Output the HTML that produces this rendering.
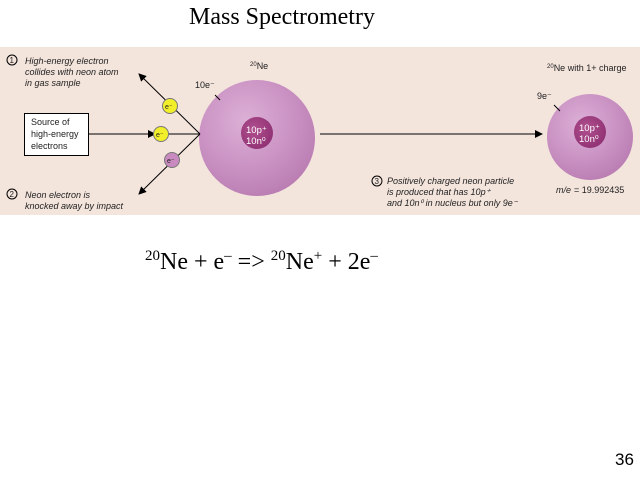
<!DOCTYPE html>
<html><head><style>
body{margin:0;width:640px;height:481px;background:#fff;position:relative;overflow:hidden;font-family:"Liberation Sans",sans-serif}
.t{position:absolute;white-space:nowrap}
</style></head><body>
<div class="t" style="left:189px;top:4px;font:24px 'Liberation Serif',serif">Mass Spectrometry</div>
<svg style="position:absolute;left:0;top:0" width="640" height="481">
<defs>
<radialGradient id="g1" cx="0.4" cy="0.35" r="0.7"><stop offset="0" stop-color="#dcb0d6"/><stop offset="0.6" stop-color="#c991c2"/><stop offset="1" stop-color="#b97cb2"/></radialGradient>
<radialGradient id="g2" cx="0.4" cy="0.4" r="0.7"><stop offset="0" stop-color="#b0508f"/><stop offset="1" stop-color="#8e2f72"/></radialGradient>
<marker id="a" markerWidth="8" markerHeight="8" refX="7" refY="4" orient="auto" markerUnits="userSpaceOnUse"><path d="M0,0L8,4L0,8z" fill="#000"/></marker>
</defs>
<rect x="0" y="47" width="640" height="168" fill="#f3e4dc"/>
<circle cx="257" cy="138" r="58" fill="url(#g1)"/>
<circle cx="257" cy="133" r="16" fill="url(#g2)"/>
<circle cx="590" cy="137" r="43" fill="url(#g1)"/>
<circle cx="590" cy="132" r="16" fill="url(#g2)"/>
<line x1="88" y1="134" x2="155" y2="134" stroke="#000" marker-end="url(#a)"/>
<line x1="155" y1="134" x2="200" y2="134" stroke="#000"/>
<line x1="200" y1="134" x2="139" y2="74" stroke="#000" marker-end="url(#a)"/>
<line x1="200" y1="134" x2="139" y2="194" stroke="#000" marker-end="url(#a)"/>
<line x1="320" y1="134" x2="542" y2="134" stroke="#000" marker-end="url(#a)"/>
<line x1="215" y1="95" x2="220" y2="100" stroke="#000"/>
<line x1="230" y1="107" x2="236" y2="108" stroke="#fff" stroke-width="0"/>
<line x1="554" y1="105" x2="560" y2="111" stroke="#000"/>
<rect x="24.5" y="113.5" width="64" height="42" fill="#fff" stroke="#000"/>
<circle cx="170" cy="106" r="7.5" fill="#f2ee2a" stroke="#777"/>
<circle cx="161" cy="134" r="7.5" fill="#f2ee2a" stroke="#777"/>
<circle cx="172" cy="160" r="7.5" fill="#c98ac0" stroke="#777"/>
<circle cx="12" cy="60" r="5" fill="none" stroke="#000"/>
<circle cx="12" cy="194" r="5" fill="none" stroke="#000"/>
<circle cx="377" cy="181" r="5" fill="none" stroke="#000"/>
<g font-family="Liberation Sans" font-size="9" fill="#222" font-style="italic">
<text x="9.5" y="63" font-style="normal" font-size="8">1</text>
<text x="9.5" y="197" font-style="normal" font-size="8">2</text>
<text x="374.5" y="184" font-style="normal" font-size="8">3</text>
<text x="25" y="64">High-energy electron</text>
<text x="25" y="75">collides with neon atom</text>
<text x="25" y="86">in gas sample</text>
<text x="25" y="198">Neon electron is</text>
<text x="25" y="209">knocked away by impact</text>
<text x="387" y="184">Positively charged neon particle</text>
<text x="387" y="195">is produced that has 10p⁺</text>
<text x="387" y="206">and 10n⁰ in nucleus but only 9e⁻</text>
<text x="556" y="193">m/e</text>
</g>
<g font-family="Liberation Sans" font-size="9" fill="#222">
<text x="31" y="125">Source of</text>
<text x="31" y="137">high-energy</text>
<text x="31" y="149">electrons</text>
<text x="195" y="88">10e⁻</text>
<text x="250" y="69"><tspan font-size="6" dy="-3">20</tspan><tspan dy="3">Ne</tspan></text>
<text x="547" y="71"><tspan font-size="6" dy="-3">20</tspan><tspan dy="3">Ne with 1+ charge</tspan></text>
<text x="537" y="99">9e⁻</text>
<text x="574" y="193">= 19.992435</text>
<text x="246" y="133" fill="#fff" font-size="9.5">10p⁺</text>
<text x="246" y="144" fill="#fff" font-size="9.5">10n⁰</text>
<text x="579" y="131" fill="#fff" font-size="9.5">10p⁺</text>
<text x="579" y="142" fill="#fff" font-size="9.5">10n⁰</text>
<text x="165" y="109" font-size="7">e⁻</text>
<text x="156" y="137" font-size="7">e⁻</text>
<text x="167" y="163" font-size="7">e⁻</text>
</g>
</svg>
<div class="t" style="left:145px;top:248px;font:24px 'Liberation Serif',serif"><sup style="font-size:15px">20</sup>Ne + e<sup style="font-size:15px">–</sup> =&gt; <sup style="font-size:15px">20</sup>Ne<sup style="font-size:15px">+</sup> + 2e<sup style="font-size:15px">–</sup></div>
<div class="t" style="left:615px;top:450px;font-size:17px">36</div>
</body></html>
